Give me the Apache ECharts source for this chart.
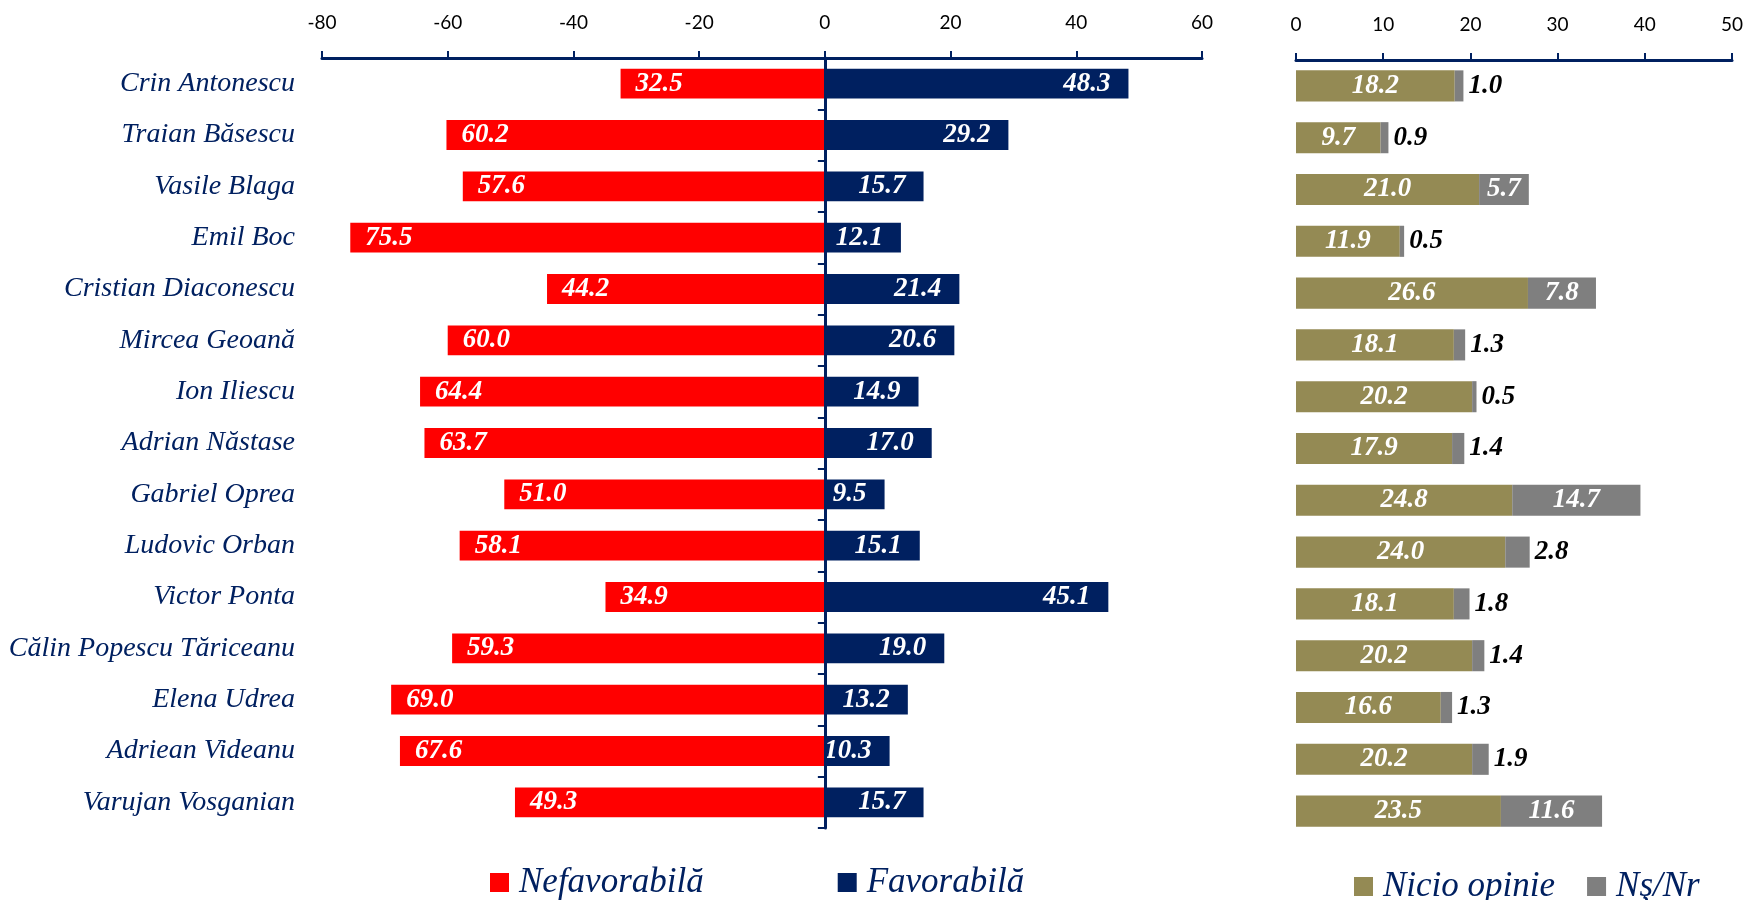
<!DOCTYPE html>
<html>
<head>
<meta charset="utf-8">
<script src="https://cdn.jsdelivr.net/npm/echarts@6/dist/echarts.min.js"></script>
<style>
  html, body { margin: 0; padding: 0; background: #fff; }
  #chart { width: 1745px; height: 900px; }
</style>
</head>
<body>
<div id="chart"></div>
<script>
// candidati (de sus in jos)
var candidates = ['Crin Antonescu', 'Traian Băsescu', 'Vasile Blaga', 'Emil Boc', 'Cristian Diaconescu',
  'Mircea Geoană', 'Ion Iliescu', 'Adrian Năstase', 'Gabriel Oprea', 'Ludovic Orban', 'Victor Ponta',
  'Călin Popescu Tăriceanu', 'Elena Udrea', 'Adriean Videanu', 'Varujan Vosganian'];
var nefavorabila = [32.5, 60.2, 57.6, 75.5, 44.2, 60.0, 64.4, 63.7, 51.0, 58.1, 34.9, 59.3, 69.0, 67.6, 49.3];
var favorabila = [48.3, 29.2, 15.7, 12.1, 21.4, 20.6, 14.9, 17.0, 9.5, 15.1, 45.1, 19.0, 13.2, 10.3, 15.7];
var nicioOpinie = [18.2, 9.7, 21.0, 11.9, 26.6, 18.1, 20.2, 17.9, 24.8, 24.0, 18.1, 20.2, 16.6, 20.2, 23.5];
var nsNr = [1.0, 0.9, 5.7, 0.5, 7.8, 1.3, 0.5, 1.4, 14.7, 2.8, 1.8, 1.4, 1.3, 1.9, 11.6];

var navy = '#002060';
var serif = '"Liberation Serif", "Times New Roman", serif';
var sans = 'Lato, "Open Sans", sans-serif';

var myChart = echarts.init(document.getElementById('chart'));

var valueLabel = {
  show: true,
  color: '#fff',
  fontFamily: serif,
  fontStyle: 'italic',
  fontWeight: 'bold',
  fontSize: 27
};

var topAxis = {
  type: 'value',
  position: 'top',
  splitLine: { show: false },
  axisLine: { show: true, onZero: false, lineStyle: { color: navy, width: 3 } },
  axisTick: { show: true, length: 7, lineStyle: { color: navy, width: 2 } },
  axisLabel: { color: '#000', fontFamily: sans, fontSize: 19, margin: 26 }
};

var option = {
  animation: false,
  grid: [
    { left: 322, top: 58, width: 880, height: 770, outerBoundsMode: 'none' },
    { left: 1296, top: 60, width: 436, height: 777, outerBoundsMode: 'none' }
  ],
  legend: [
    {
      data: ['Nefavorabilă', 'Favorabilă'],
      left: 485, top: 860,
      icon: 'rect', itemWidth: 19, itemHeight: 19, itemGap: 134,
      textStyle: { fontFamily: serif, fontStyle: 'italic', fontSize: 35, color: navy, padding: [0, 0, 0, 5] }
    },
    {
      data: ['Nicio opinie', 'Nş/Nr'],
      left: 1349, top: 864,
      icon: 'rect', itemWidth: 19, itemHeight: 19, itemGap: 32,
      textStyle: { fontFamily: serif, fontStyle: 'italic', fontSize: 35, color: navy, padding: [0, 0, 0, 5] }
    }
  ],
  xAxis: [
    Object.assign({ gridIndex: 0, min: -80, max: 60, interval: 20 }, topAxis),
    Object.assign({ gridIndex: 1, min: 0, max: 50, interval: 10 }, topAxis)
  ],
  yAxis: [
    {
      // etichetele cu nume
      type: 'category', gridIndex: 0, data: candidates, inverse: true,
      axisLine: { show: false, onZero: false }, axisTick: { show: false },
      axisLabel: { color: navy, fontFamily: serif, fontStyle: 'italic', fontSize: 28, margin: 27 }
    },
    {
      // axa verticala din dreptul lui 0
      type: 'category', gridIndex: 0, data: candidates, inverse: true, position: 'left', z: 10,
      axisLine: { show: true, onZero: true, lineStyle: { color: navy, width: 3 } },
      axisTick: { show: true, length: 7, lineStyle: { color: navy, width: 2 } },
      axisLabel: { show: false }
    },
    {
      type: 'category', gridIndex: 1, data: candidates, inverse: true, show: false
    }
  ],
  series: [
    {
      name: 'Nefavorabilă', type: 'bar', stack: 'fav', xAxisIndex: 0, yAxisIndex: 0,
      barWidth: '58%', itemStyle: { color: '#FF0000' },
      label: Object.assign({ position: 'insideLeft', distance: 15,
        formatter: function (p) { return Math.abs(p.value).toFixed(1); } }, valueLabel),
      data: nefavorabila.map(function (v) { return -v; })
    },
    {
      name: 'Favorabilă', type: 'bar', stack: 'fav', xAxisIndex: 0, yAxisIndex: 0,
      barWidth: '58%', itemStyle: { color: navy },
      label: Object.assign({ position: 'insideRight', distance: 18,
        formatter: function (p) { return p.value.toFixed(1); } }, valueLabel),
      data: favorabila
    },
    {
      name: 'Nicio opinie', type: 'bar', stack: 'rest', xAxisIndex: 1, yAxisIndex: 2,
      barWidth: '60%', itemStyle: { color: '#948A54' },
      label: Object.assign({ position: 'inside',
        formatter: function (p) { return p.value.toFixed(1); } }, valueLabel),
      data: nicioOpinie
    },
    {
      name: 'Nş/Nr', type: 'bar', stack: 'rest', xAxisIndex: 1, yAxisIndex: 2,
      barWidth: '60%', itemStyle: { color: '#7F7F7F' },
      label: Object.assign({ position: 'inside',
        formatter: function (p) { return p.value.toFixed(1); } }, valueLabel),
      // valorile mici se scriu in afara barei, cu negru
      data: nsNr.map(function (v) {
        return v >= 5 ? v : { value: v, label: { position: 'right', distance: 5, color: '#000' } };
      })
    }
  ]
};

myChart.setOption(option);
</script>
</body>
</html>
